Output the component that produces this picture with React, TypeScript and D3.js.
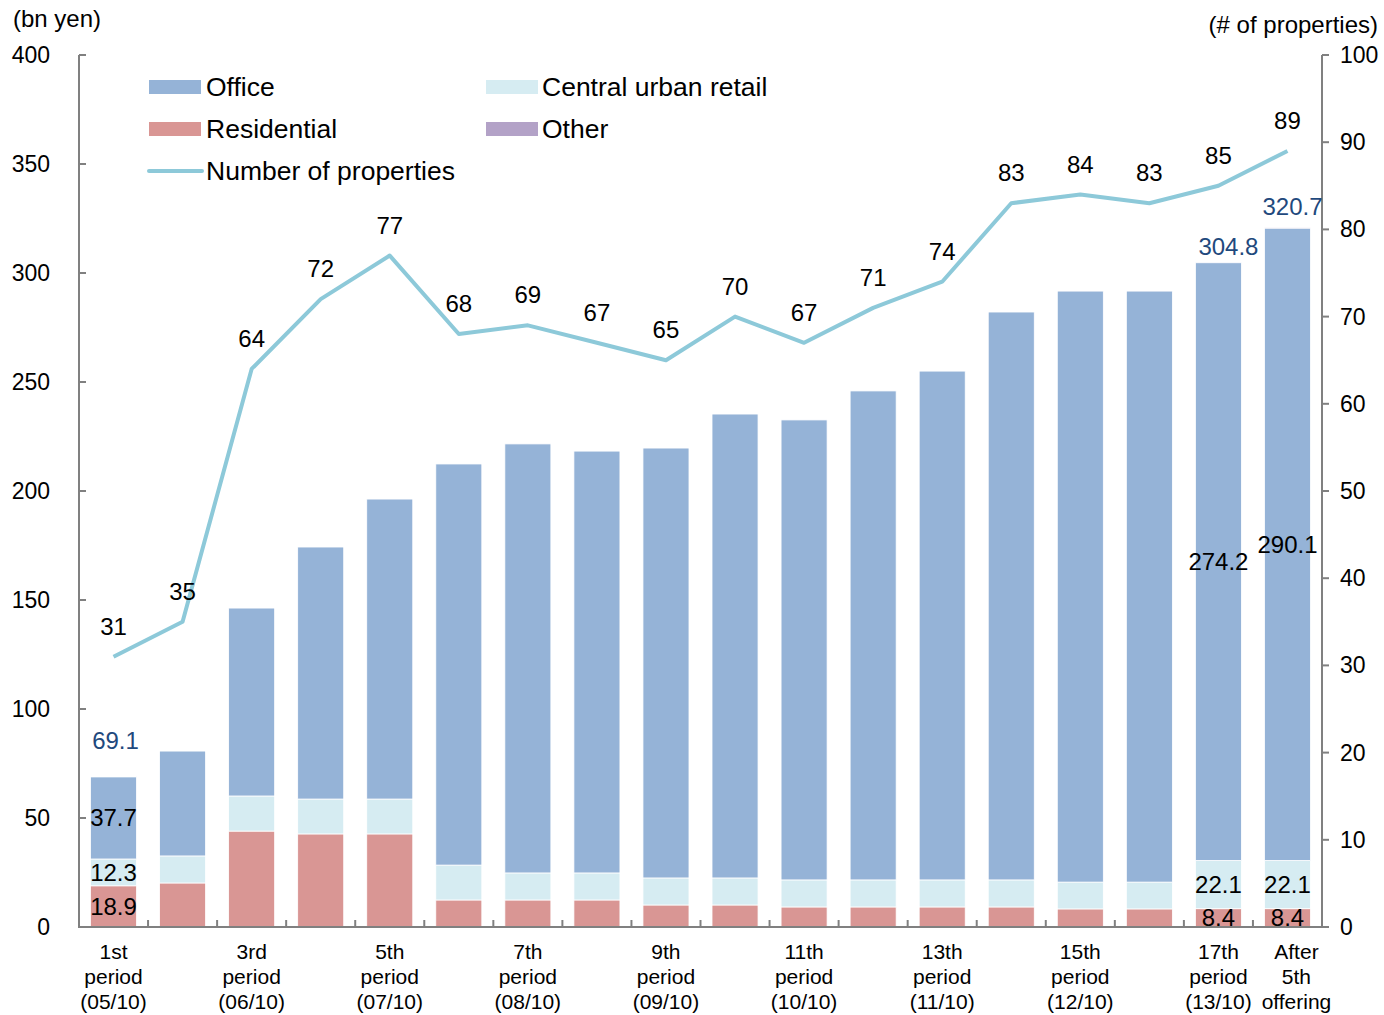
import React, { useEffect } from "react";
import * as d3 from "d3";

const categories = [
  "1st", "2nd", "3rd", "4th", "5th", "6th", "7th", "8th", "9th",
  "10th", "11th", "12th", "13th", "14th", "15th", "16th", "17th", "After",
];
const xLabels = [
  ["1st", "period", "(05/10)"], [], ["3rd", "period", "(06/10)"], [],
  ["5th", "period", "(07/10)"], [], ["7th", "period", "(08/10)"], [],
  ["9th", "period", "(09/10)"], [], ["11th", "period", "(10/10)"], [],
  ["13th", "period", "(11/10)"], [], ["15th", "period", "(12/10)"], [],
  ["17th", "period", "(13/10)"], ["After", "5th", "offering"],
];
const residential = [18.9, 20.2, 44.0, 42.7, 42.7, 12.4, 12.4, 12.4, 10.1, 10.1, 9.2, 9.2, 9.2, 9.2, 8.3, 8.3, 8.4, 8.4];
const retail = [12.3, 12.4, 16.1, 16.0, 16.0, 16.0, 12.4, 12.4, 12.4, 12.4, 12.4, 12.4, 12.4, 12.4, 12.3, 12.3, 22.1, 22.1];
const office = [37.7, 48.1, 86.2, 115.6, 137.6, 184.0, 196.8, 193.5, 197.2, 212.8, 211.0, 224.3, 233.4, 260.5, 271.1, 271.1, 274.2, 290.1];
const other = [0.2, 0, 0, 0, 0, 0, 0, 0, 0, 0, 0, 0, 0, 0, 0, 0, 0, 0.1];
const properties = [31, 35, 64, 72, 77, 68, 69, 67, 65, 70, 67, 71, 74, 83, 84, 83, 85, 89];
const leftTicks = [0, 50, 100, 150, 200, 250, 300, 350, 400];
const rightTicks = [0, 10, 20, 30, 40, 50, 60, 70, 80, 90, 100];

// value labels shown on the bars: [category index, series, text]
const segLabels: [number, string, string][] = [
  [0, "residential", "18.9"], [0, "retail", "12.3"], [0, "office", "37.7"],
  [16, "residential", "8.4"], [16, "retail", "22.1"], [16, "office", "274.2"],
  [17, "residential", "8.4"], [17, "retail", "22.1"], [17, "office", "290.1"],
];
const totalLabels: [number, string][] = [[0, "69.1"], [16, "304.8"], [17, "320.7"]];

const COLORS: Record<string, string> = {
  residential: "#D99694",
  retail: "#D6ECF2",
  office: "#95B3D7",
  other: "#B3A2C7",
};
const LINE = "#8DC9D9";
const AXIS = "#808080";
const FONT = "'Liberation Sans', Arial, sans-serif";

const W = 1384;
const H = 1015;
const X0 = 79;
const X1 = 1322;
const Y0 = 927;
const Y1 = 55;

const App = () => {
  useEffect(() => {
    document.body.style.margin = "0";
  }, []);

  const x = d3.scaleBand().domain(categories).range([X0, X1]).paddingInner(1 / 3).paddingOuter(1 / 6);
  const y = d3.scaleLinear().domain([0, 400]).range([Y0, Y1]);
  const yR = d3.scaleLinear().domain([0, 100]).range([Y0, Y1]);

  const rows = categories.map((c, i) => ({
    cat: c,
    residential: residential[i],
    retail: retail[i],
    office: office[i],
    other: other[i],
  }));
  const keys = ["residential", "retail", "office", "other"];
  const series = d3.stack<any>().keys(keys)(rows);

  const cx = (i: number) => (x(categories[i]) as number) + x.bandwidth() / 2;
  const line = d3
    .line<number>()
    .x((_, i) => cx(i))
    .y(d => yR(d));

  const totalOffsets: Record<number, [number, number]> = {
    0: [2, -27],
    16: [10, -8],
    17: [5, -13],
  };

  return (
    <svg width={W} height={H} style={{ display: "block", fontFamily: FONT }}>
      <rect width={W} height={H} fill="#fff" />
      {series.map(s => (
        <g key={s.key} fill={COLORS[s.key]}>
          {s.map((d, i) =>
            d[1] - d[0] > 0 ? (
              <rect
                key={i}
                x={x(categories[i])}
                width={x.bandwidth()}
                y={y(d[1])}
                height={y(d[0]) - y(d[1])}
                stroke="#fff"
                strokeWidth={0.8}
              />
            ) : null
          )}
        </g>
      ))}

      {/* axes */}
      <g stroke={AXIS} strokeWidth={2} fill="none">
        <line x1={X0} x2={X0} y1={Y1} y2={Y0} />
        <line x1={X1} x2={X1} y1={Y1} y2={Y0} />
        <line x1={X0 - 1} x2={X1 + 7} y1={Y0} y2={Y0} />
        {leftTicks.map(t => (
          <line key={t} x1={X0} x2={X0 + 7} y1={y(t)} y2={y(t)} />
        ))}
        {rightTicks.map(t => (
          <line key={t} x1={X1} x2={X1 + 7} y1={yR(t)} y2={yR(t)} />
        ))}
        {categories.map((c, i) =>
          i > 0 ? (
            <line key={c} x1={x.step() * i + X0} x2={x.step() * i + X0} y1={Y0} y2={Y0 - 7} />
          ) : null
        )}
      </g>
      <g fontSize={23} fill="#000">
        {leftTicks.map(t => (
          <text key={t} x={50} y={y(t)} dy="0.35em" textAnchor="end">
            {t}
          </text>
        ))}
        {rightTicks.map(t => (
          <text key={t} x={1340} y={yR(t)} dy="0.35em">
            {t}
          </text>
        ))}
      </g>
      <text x={13} y={27} fontSize={24}>(bn yen)</text>
      <text x={1378} y={33} fontSize={24} textAnchor="end">(# of properties)</text>

      {/* x labels */}
      <g fontSize={21} textAnchor="middle">
        {xLabels.map((lines, i) =>
          lines.map((t, j) => (
            <text key={i + "-" + j} x={cx(i) + (i === 17 ? 9 : 0)} y={959 + j * 25}>
              {t}
            </text>
          ))
        )}
      </g>

      {/* line */}
      <path d={line(properties) || ""} fill="none" stroke={LINE} strokeWidth={4} strokeLinejoin="round" />
      <g fontSize={24} textAnchor="middle">
        {properties.map((p, i) => (
          <text key={i} x={cx(i)} y={yR(p) - 22}>
            {p}
          </text>
        ))}
      </g>

      {/* segment labels */}
      <g fontSize={24} textAnchor="middle">
        {segLabels.map(([i, key, t]) => {
          const s = series.find(ss => ss.key === key)!;
          const d = s[i];
          return (
            <text key={i + key} x={cx(i)} y={y((d[0] + d[1]) / 2)} dy="0.35em">
              {t}
            </text>
          );
        })}
      </g>
      <g fontSize={24} textAnchor="middle" fill="#1F497D">
        {totalLabels.map(([i, t]) => {
          const top = series[series.length - 1][i][1];
          const [dx, dy] = totalOffsets[i];
          return (
            <text key={i} x={cx(i) + dx} y={y(top) + dy}>
              {t}
            </text>
          );
        })}
      </g>

      {/* legend */}
      <g fontSize={26.5}>
        <rect x={149} y={80} width={52} height={14} fill={COLORS.office} />
        <text x={206} y={96}>Office</text>
        <rect x={149} y={122} width={52} height={14} fill={COLORS.residential} />
        <text x={206} y={138}>Residential</text>
        <line x1={149} x2={202} y1={171} y2={171} stroke={LINE} strokeWidth={4} strokeLinecap="round" />
        <text x={206} y={180}>Number of properties</text>
        <rect x={486} y={80} width={52} height={14} fill={COLORS.retail} />
        <text x={542} y={96}>Central urban retail</text>
        <rect x={486} y={122} width={52} height={14} fill={COLORS.other} />
        <text x={542} y={138}>Other</text>
      </g>
    </svg>
  );
};

export default App;
